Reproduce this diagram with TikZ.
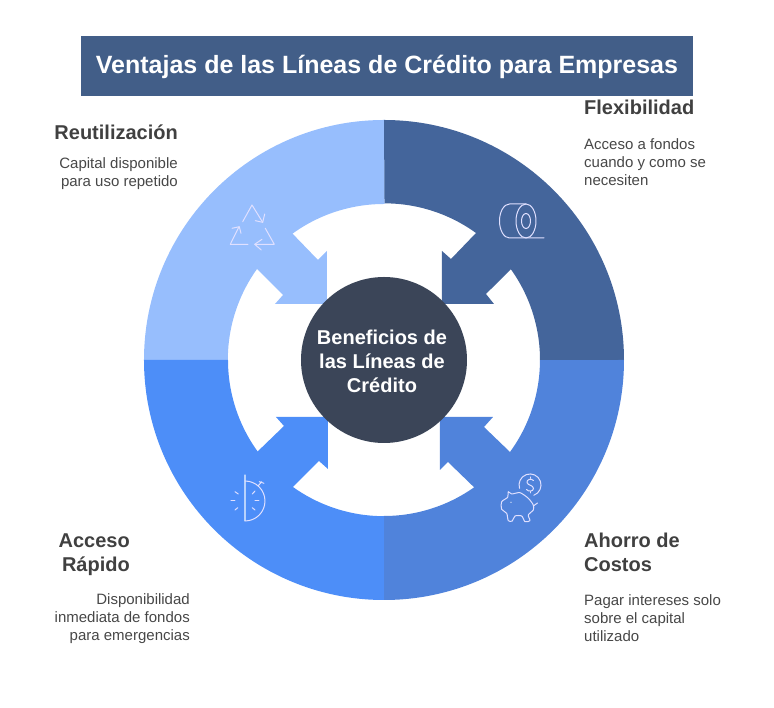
\documentclass[tikz,border=0pt]{standalone}
\usepackage{fontspec}
\setmainfont{Liberation Sans}
\definecolor{flexblue}{HTML}{44659B}
\definecolor{ahorroblue}{HTML}{5083DB}
\definecolor{rapidoblue}{HTML}{4D8EF8}
\definecolor{reusoblue}{HTML}{97BEFD}
\definecolor{hubdark}{HTML}{3B4558}
\definecolor{titleblue}{HTML}{425E88}
\definecolor{headgray}{HTML}{404040}
\definecolor{bodygray}{HTML}{474747}
\tikzset{
    heading/.style={inner sep=0pt, text=headgray, font=\fontsize{20}{24}\selectfont\bfseries},
    bodytext/.style={inner sep=0pt, text=bodygray, font=\fontsize{15}{18}\selectfont},
    icon/.style={draw=white!88!blue, line width=1pt, line cap=round, line join=round}
}
\begin{document}
\begin{tikzpicture}[x=1pt,y=1pt]
        \useasboundingbox (-384,360) rectangle (390,-348);

        \fill[reusoblue] (-240,0) arc[start angle=180, end angle=90, radius=240pt] -- (0.6,240) -- (0.6,156) -- (0,156)
            arc[start angle=90, end angle=125.9, radius=156pt]
            -- (-66,100) -- (-57,109) -- (-57,56) -- (-109,56) -- (-101,65) -- (-127,91)
            arc[start angle=144.4, end angle=180, radius=156pt] -- cycle;
        \fill[flexblue] (0,240) arc[start angle=90, end angle=0, radius=240pt] -- (156,0)
            arc[start angle=0, end angle=35.6, radius=156pt]
            -- (102,66) -- (110,56) -- (58,56) -- (58,109) -- (67,101) -- (92,127)
            arc[start angle=54.1, end angle=90, radius=156pt] -- cycle;
        \fill[ahorroblue] (240,0) arc[start angle=0, end angle=-90, radius=240pt] -- (0,-156)
            arc[start angle=-90, end angle=-54.7, radius=156pt]
            -- (64,-102) -- (56,-110) -- (56,-57) -- (109,-57) -- (100,-67) -- (126,-92)
            arc[start angle=-36.1, end angle=0, radius=156pt] -- cycle;
        \fill[rapidoblue] (0,-240) arc[start angle=-90, end angle=-180, radius=240pt] -- (-156,0)
            arc[start angle=180, end angle=215.9, radius=156pt]
            -- (-100,-66) -- (-108,-57) -- (-56,-57) -- (-56,-109) -- (-65,-101) -- (-91,-127)
            arc[start angle=234.4, end angle=270, radius=156pt] -- cycle;

        \node[circle, fill=hubdark, minimum size=166pt, inner sep=0pt] (hub) at (0,0) {};
        \node[inner sep=0pt, text=white, align=center,
            font=\fontsize{20}{24}\selectfont\bfseries] (hublabel) at (-2,-1) {Beneficios de\\las Líneas de\\Crédito};

        \node[fill=titleblue, minimum width=612pt, minimum height=60pt, inner sep=0pt, text=white] (title) at (3,294) {};
        \node[inner sep=0pt, text=white,
            font=\fontsize{25}{28}\selectfont\bfseries] (titlelabel) at (3,293) {Ventajas de las Líneas de Crédito para Empresas};

        \node[heading, anchor=base west] (flex) at (200,245) {Flexibilidad};
        \node[bodytext, anchor=base west, align=left] (flexdesc) at (200,174) {Acceso a fondos\\cuando y como se\\necesiten};
        \node[heading, anchor=base east] (reuso) at (-206,220.5) {Reutilización};
        \node[bodytext, anchor=base east, align=right] (reusodesc) at (-206,173) {Capital disponible\\para uso repetido};
        \node[heading, anchor=base east, align=right] (rapido) at (-254,-211.5) {Acceso\\Rápido};
        \node[bodytext, anchor=base east, align=right] (rapidodesc) at (-194,-281) {Disponibilidad\\inmediata de fondos\\para emergencias};
        \node[heading, anchor=base west, align=left] (ahorro) at (200,-211.5) {Ahorro de\\Costos};
        \node[bodytext, anchor=base west, align=left] (ahorrodesc) at (200,-282) {Pagar intereses solo\\sobre el capital\\utilizado};

        \draw[icon] (142,139) ellipse (10pt and 17pt);
        \draw[icon] (142,139) ellipse (4.5pt and 7.5pt);
        \draw[icon] (142,156) -- (125.5,156) arc[start angle=90, end angle=270, x radius=10pt, y radius=17pt] -- (160,122);

        \draw[icon] (149.8,-135.3) arc[start angle=-70, end angle=198, radius=11pt];
        \draw[icon] (149.5,-120.5) .. controls (147,-118) and (142.5,-119.5) .. (143,-122.5)
            .. controls (143.5,-125.5) and (149.5,-125) .. (149.5,-128.5) .. controls (149.5,-131.5) and (144.5,-132) .. (142.5,-129.5);
        \draw[icon] (146,-117) -- (146,-118.5) (146,-131.5) -- (146,-133);
        \draw[icon] plot[smooth cycle, tension=0.45] coordinates {(117.7,-141.7) (117.7,-149.3) (122.7,-153.3)
            (124.3,-160.7) (128.3,-161) (131,-156) (137.7,-156) (141,-161.7) (146,-160.7) (144.3,-155)
            (149.3,-150) (149.3,-145) (144.3,-138.3) (136,-132.7) (127.7,-134) (124.3,-131.7) (123.7,-137.3)};
        \draw[icon] (149.3,-146) -- (153.5,-143);
        \fill[white] (127,-142.3) circle (0.7pt);

        \draw[icon, line width=1.3pt, draw=white!60!rapidoblue] (-139,-115) -- (-139,-160.7);
        \draw[icon] (-139,-121) arc[start angle=90, end angle=-90, radius=20pt];
        \draw[icon] (-153,-140.7) -- (-149,-140.7) (-129,-140.7) -- (-125,-140.7);
        \draw[icon] (-149,-131.7) -- (-145.7,-134) (-149,-150) -- (-146.3,-147.7);
        \draw[icon] (-131.7,-134) -- (-129,-131) (-131.7,-147.7) -- (-129,-150);
        \draw[icon] (-125.7,-125.7) -- (-122.3,-121.7) (-124.7,-121.7) -- (-120,-123.3);

        \draw[icon] (-141.3,138.3) -- (-132,155) -- (-121.3,137.7);
        \draw[icon] (-128.7,139.3) -- (-121.3,137.7) -- (-119.3,146);
        \draw[icon] (-136,115.7) -- (-153.7,115.7) -- (-145.3,132.7);
        \draw[icon] (-152,131.7) -- (-144.7,133.3) -- (-143,126.7);
        \draw[icon] (-118.7,131.7) -- (-109.7,115.7) -- (-128.7,115.7);
        \draw[icon] (-122,120.7) -- (-129.3,115.7) -- (-122.7,110);
    \end{tikzpicture}
\end{document}
